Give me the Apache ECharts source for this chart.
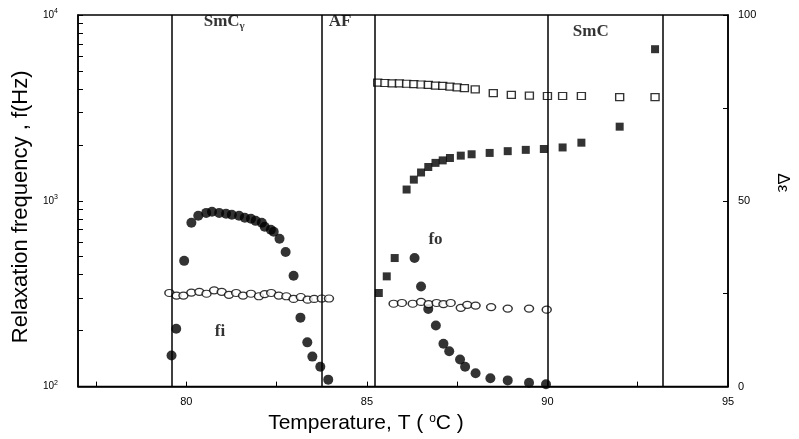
<!DOCTYPE html>
<html>
<head>
<meta charset="utf-8">
<script src="https://cdn.jsdelivr.net/npm/echarts@6/dist/echarts.min.js"></script>
<style>
  html, body { margin: 0; padding: 0; background: #fff; }
  #chart { width: 799px; height: 439px; }
</style>
</head>
<body>
<div id="chart"></div>
<script>
// 相边界温度
const phaseBounds = [79.59, 83.74, 85.22, 90.0, 93.2]

// fi (实心圆)
const fiTemp = [79.59, 79.72, 79.94, 80.14, 80.33, 80.55, 80.71, 80.91, 81.10, 81.26, 81.46, 81.62, 81.79, 81.92, 82.09, 82.17, 82.34, 82.42, 82.58, 82.75, 82.97, 83.16, 83.35, 83.49, 83.71, 83.93,
  86.32, 86.50, 86.70, 86.91, 87.12, 87.28, 87.58, 87.72, 88.01, 88.42, 88.90, 89.49, 89.96]
const fiFreq = [147, 205, 475, 762, 830, 861, 873, 861, 851, 841, 830, 811, 800, 780, 762, 725, 698, 681, 625, 530, 395, 235, 173, 145, 128, 109,
  492, 346, 262, 213, 170, 155, 140, 128, 118, 111, 108, 105, 103]

// Δε (空心圆)
const deCircleTemp = [79.53, 79.73, 79.92, 80.14, 80.36, 80.56, 80.77, 80.98, 81.18, 81.38, 81.57, 81.79, 82.01, 82.17, 82.35, 82.56, 82.77, 82.97, 83.17, 83.36, 83.54, 83.75, 83.95,
  85.74, 85.97, 86.27, 86.50, 86.71, 86.93, 87.12, 87.32, 87.60, 87.78, 88.01, 88.44, 88.90, 89.49, 89.98]
const deCircleVal = [25.2, 24.5, 24.5, 25.3, 25.5, 25.0, 25.9, 25.5, 24.7, 25.2, 24.5, 25.0, 24.3, 24.9, 25.2, 24.5, 24.3, 23.6, 24.1, 23.4, 23.6, 23.7, 23.7,
  22.3, 22.5, 22.3, 22.8, 22.2, 22.5, 22.2, 22.5, 21.2, 22.0, 21.8, 21.4, 21.0, 21.0, 20.7]

// fo (实心方块)
const foTemp = [85.33, 85.55, 85.77, 86.10, 86.30, 86.50, 86.70, 86.90, 87.10, 87.30, 87.60, 87.90, 88.40, 88.90, 89.40, 89.90, 90.42, 90.94, 92.00, 92.98]
const foFreq = [319, 392, 492, 1150, 1300, 1420, 1520, 1600, 1650, 1700, 1750, 1780, 1810, 1850, 1880, 1900, 1937, 2055, 2506, 6545]

// Δε (空心方块)
const deSquareTemp = [85.3, 85.5, 85.7, 85.9, 86.1, 86.3, 86.5, 86.7, 86.9, 87.1, 87.3, 87.5, 87.7, 88.0, 88.5, 89.0, 89.5, 90.0, 90.42, 90.94, 92.0, 92.98]
const deSquareVal = [81.8, 81.7, 81.6, 81.6, 81.5, 81.4, 81.3, 81.2, 81.0, 80.9, 80.7, 80.5, 80.3, 80.0, 79.0, 78.5, 78.3, 78.2, 78.2, 78.2, 77.9, 77.9]

// 刻度
const xLabelValues = [80, 85, 90, 95]
const xTickValues = [77.5, 80, 82.5, 85, 87.5, 90, 92.5, 95]
const yTickValues = [100, 200, 300, 400, 500, 600, 700, 800, 900, 1000, 2000, 3000, 4000, 5000, 6000, 7000, 8000, 9000, 10000]
const rightLabelValues = [0, 50, 100]

// 文字标注
const noteText = ['SmC{g|γ}', 'AF', 'SmC', 'fi', 'fo']
const noteTemp = [81.05, 84.26, 91.2, 80.93, 86.9]
const noteFreq = [9200, 9200, 8100, 198, 620]

const zip = (a, b) => a.map((v, i) => [v, b[i]])
const font = 'Liberation Sans, Arial, sans-serif'

let chart = echarts.init(document.getElementById('chart'), null, { renderer: 'canvas' })

let option = {
  backgroundColor: '#fff',
  animation: false,
  grid: {
    left: 78, right: 67, top: 15, bottom: 52,
    show: true, borderColor: '#000', borderWidth: 1.5
  },
  xAxis: {
    type: 'value', min: 77, max: 95,
    name: 'Temperature, T ( {s|o}C )',
    nameLocation: 'middle', nameGap: 24,
    nameTextStyle: {
      fontFamily: font, fontSize: 21, color: '#000', padding: [0, 74, 0, 0],
      rich: { s: { fontSize: 12, padding: [0, 0, 10, 0], fontFamily: font } }
    },
    axisLine: { lineStyle: { color: '#000', width: 1.5 } },
    axisTick: { inside: true, length: 5, customValues: xTickValues, lineStyle: { color: '#000' } },
    axisLabel: { customValues: xLabelValues, fontFamily: font, fontSize: 11, color: '#000', margin: 10 },
    splitLine: { show: false }
  },
  yAxis: [{
    type: 'log', min: 100, max: 10000, logBase: 10,
    name: 'Relaxation frequency , f(Hz)',
    nameLocation: 'middle', nameGap: 46, nameRotate: 90,
    nameTextStyle: { fontFamily: font, fontSize: 22, color: '#000', padding: [0, 12, 0, 0] },
    axisLine: { show: true, lineStyle: { color: '#000', width: 1.5 } },
    axisTick: { inside: true, length: 5, customValues: yTickValues, lineStyle: { color: '#000' } },
    axisLabel: {
      fontFamily: font, fontSize: 10, color: '#000', margin: 20,
      formatter: function (v) {
        return '{b|10}{s|' + Math.round(Math.log10(v)) + '}'
      },
      rich: {
        b: { fontFamily: font, fontSize: 10, color: '#000' },
        s: { fontFamily: font, fontSize: 7, color: '#000', padding: [0, 0, 7, 0] }
      }
    },
    splitLine: { show: false }
  }, {
    type: 'value', min: 0, max: 100, interval: 25,
    name: 'Δε',
    nameLocation: 'middle', nameGap: 46, nameRotate: -90,
    nameTextStyle: { fontFamily: font, fontSize: 17, color: '#000', padding: [0, 36, 0, 0] },
    axisLine: { show: true, lineStyle: { color: '#000', width: 1.5 } },
    axisTick: { inside: true, length: 5, lineStyle: { color: '#000' } },
    axisLabel: { customValues: rightLabelValues, fontFamily: font, fontSize: 11, color: '#000', margin: 10 },
    splitLine: { show: false }
  }],
  series: [{
    name: 'fi',
    type: 'scatter',
    yAxisIndex: 0,
    symbol: 'circle', symbolSize: 10,
    itemStyle: { color: '#000' },
    data: zip(fiTemp, fiFreq),
    markLine: {
      silent: true, symbol: 'none', label: { show: false },
      lineStyle: { color: '#000', width: 1.5, type: 'solid' },
      data: phaseBounds.map(v => ({ xAxis: v }))
    }
  }, {
    name: 'fo',
    type: 'scatter',
    yAxisIndex: 0,
    symbol: 'rect', symbolSize: 8,
    itemStyle: { color: '#000' },
    data: zip(foTemp, foFreq)
  }, {
    name: 'de_circle',
    type: 'scatter',
    yAxisIndex: 1,
    symbol: 'circle', symbolSize: [9, 7],
    itemStyle: { color: '#fff', borderColor: '#000', borderWidth: 1.3 },
    data: zip(deCircleTemp, deCircleVal)
  }, {
    name: 'de_square',
    type: 'scatter',
    yAxisIndex: 1,
    symbol: 'rect', symbolSize: [8, 7],
    itemStyle: { color: '#fff', borderColor: '#000', borderWidth: 1.3 },
    data: zip(deSquareTemp, deSquareVal)
  }, {
    name: 'notes',
    type: 'scatter',
    yAxisIndex: 0,
    symbolSize: 0,
    silent: true,
    data: noteText.map((t, i) => [noteTemp[i], noteFreq[i], t]),
    label: {
      show: true, position: 'inside',
      formatter: p => p.data[2],
      fontFamily: 'Liberation Serif, Times New Roman, serif',
      fontWeight: 'bold', fontSize: 17, color: '#000',
      rich: {
        g: { fontFamily: 'Liberation Serif, serif', fontWeight: 'bold', fontSize: 11, color: '#000', padding: [9, 0, 0, 0] }
      }
    }
  }]
}

chart.setOption(option)
</script>
</body>
</html>
